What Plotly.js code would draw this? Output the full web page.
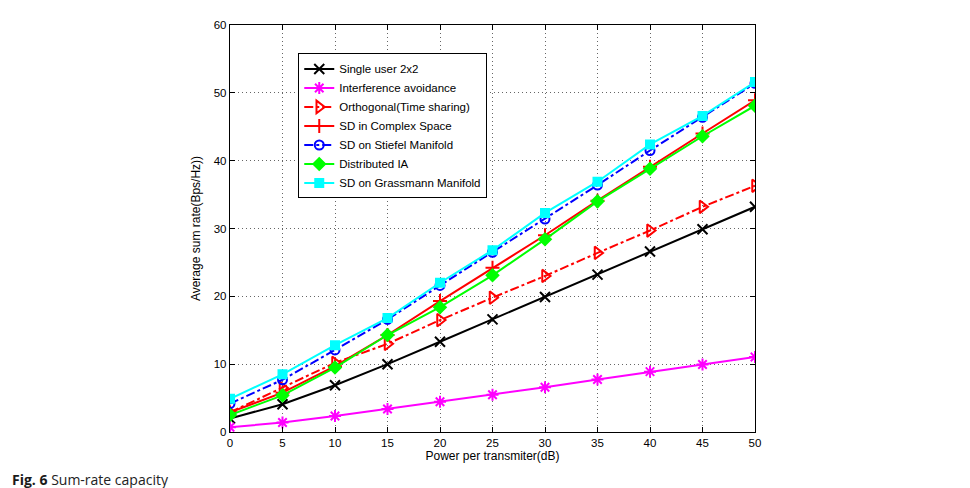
<!DOCTYPE html>
<html>
<head>
<meta charset="utf-8">
<script src="https://cdn.plot.ly/plotly-3.0.1.min.js"></script>
<style>
  html, body { margin: 0; padding: 0; background: #fff; }
  #chart { width: 970px; height: 488px; }
  #caption { position: absolute; left: 12px; top: 470px; font-family: "Open Sans", "Noto Sans", sans-serif; font-size: 14px; color: #222; }
  #caption b { color: #1a1a1a; }
</style>
</head>
<body>
<div id="chart"></div>
<div id="caption"><b>Fig. 6</b> Sum-rate capacity</div>
<script>
// Transmit power (dB)
const power = [0, 5, 10, 15, 20, 25, 30, 35, 40, 45, 50];

// Average sum rate (Bps/Hz) per scheme
const singleUser   = [2.0, 4.1, 6.9, 10.0, 13.3, 16.6, 19.9, 23.2, 26.6, 29.9, 33.2];
const interfAvoid  = [0.7, 1.4, 2.35, 3.4, 4.45, 5.5, 6.6, 7.75, 8.9, 9.95, 11.05];
const orthogonal   = [2.9, 6.5, 10.2, 13.0, 16.5, 19.8, 23.0, 26.4, 29.7, 33.2, 36.3];
const sdComplex    = [2.9, 5.8, 9.7, 14.3, 19.3, 24.2, 29.0, 34.1, 39.1, 44.0, 48.9];
const sdStiefel    = [4.2, 7.7, 12.1, 16.6, 21.6, 26.5, 31.4, 36.4, 41.5, 46.4, 51.4];
const distributed  = [2.5, 5.4, 9.5, 14.3, 18.4, 23.1, 28.4, 34.0, 38.8, 43.6, 48.1];
const sdGrassmann  = [4.9, 8.5, 12.8, 16.8, 22.0, 26.8, 32.3, 36.9, 42.4, 46.6, 51.6];

const xTicks = [0, 5, 10, 15, 20, 25, 30, 35, 40, 45, 50];
const yTicks = [0, 10, 20, 30, 40, 50, 60];

const mk = (name, y, color, dash, symbol, size) => ({
  x: power, y: y, name: name, type: 'scatter', mode: 'lines+markers',
  line: { color: color, width: 2, dash: dash },
  marker: { symbol: symbol, size: size, color: color,
            line: { color: color, width: 2 } }
});

const traces = [
  mk('Single user 2x2', singleUser, '#000000', 'solid', 'x-thin-open', 10),
  mk('Interference avoidance', interfAvoid, '#ff00ff', 'solid', 'asterisk-open', 10),
  mk('Orthogonal(Time sharing)', orthogonal, '#ff0000', 'dashdot', 'triangle-right-open', 11),
  mk('SD in Complex Space', sdComplex, '#ff0000', 'solid', 'cross-thin-open', 10),
  mk('SD on Stiefel Manifold', sdStiefel, '#0000ff', 'dashdot', 'circle-open', 9),
  mk('Distributed IA', distributed, '#00ff00', 'solid', 'diamond', 9),
  mk('SD on Grassmann Manifold', sdGrassmann, '#00ffff', 'solid', 'square', 8)
];

const tickFont = { family: 'Liberation Sans, Arial, sans-serif', size: 11.5, color: '#000' };
const titleFont = { family: 'Liberation Sans, Arial, sans-serif', size: 12, color: '#000' };

const gridStyle = { showgrid: true, gridcolor: '#666', griddash: '1px,3px', gridwidth: 1 };

const layout = {
  width: 970, height: 488,
  margin: { l: 230, r: 215, t: 25, b: 56 },
  paper_bgcolor: '#fff', plot_bgcolor: '#fff',
  showlegend: true,
  font: tickFont,
  xaxis: Object.assign({
    range: [0, 50], tickvals: xTicks, ticktext: xTicks.map(String),
    ticks: 'inside', ticklen: 5, tickcolor: '#000', mirror: 'ticks',
    showline: true, linecolor: '#000', linewidth: 1.2,
    zeroline: false, tickfont: tickFont,
    title: { text: 'Power per transmiter(dB)', font: titleFont, standoff: 3 }
  }, gridStyle),
  yaxis: Object.assign({
    range: [0, 60], tickvals: yTicks, ticktext: yTicks.map(String),
    ticks: 'inside', ticklen: 5, tickcolor: '#000', mirror: 'ticks',
    showline: true, linecolor: '#000', linewidth: 1.2,
    zeroline: false, tickfont: tickFont,
    title: { text: 'Average sum rate(Bps/Hz))', font: titleFont, standoff: 10 }
  }, gridStyle),
  legend: {
    x: 0.13, y: 0.93, xanchor: 'left', yanchor: 'top',
    bgcolor: '#fff', bordercolor: '#000', borderwidth: 1,
    font: { family: 'Liberation Sans, Arial, sans-serif', size: 11.5, color: '#000' },
    tracegroupgap: 0, itemwidth: 30
  }
};

Plotly.newPlot('chart', traces, layout, { displayModeBar: false, staticPlot: true });
</script>
</body>
</html>
